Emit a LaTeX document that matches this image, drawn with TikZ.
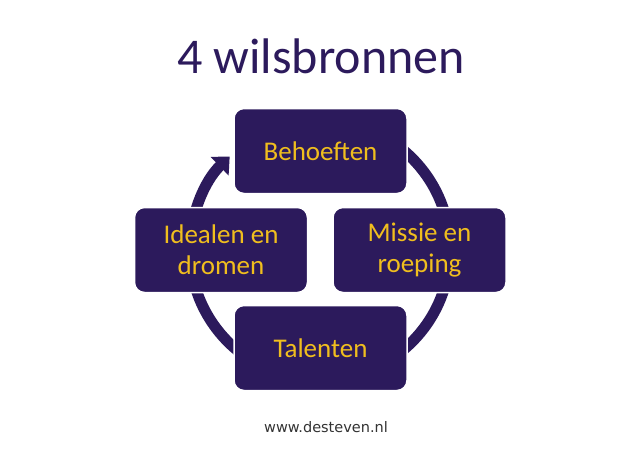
\documentclass[tikz,border=0pt]{standalone}
\usepackage{fontspec}
\setmainfont{Carlito}
\newfontfamily\footfont{DejaVu Sans}
\usetikzlibrary{arrows.meta}
\definecolor{navy}{HTML}{2C1A5C}
\definecolor{gold}{HTML}{F0BE1E}
\definecolor{footgray}{HTML}{333333}
\tikzset{
  srcbox/.style={rectangle, rounded corners=10pt, fill=navy, draw=white, line width=1.5pt,
    minimum width=173pt, minimum height=85pt, text=gold, font=\fontsize{27}{31}\selectfont,
    align=center, inner sep=2pt},
  ring/.style={draw=navy, line width=11pt, -{Triangle[width=25pt,length=14pt]}}
}
\begin{document}
\begin{tikzpicture}[x=1pt,y=1pt]
\useasboundingbox[fill=white] (0,0) rectangle (640,459);
\node[text=navy, font=\fontsize{50}{58}\selectfont] (title) at (321,403) {4 wilsbronnen};
\coordinate (c) at (320,209);
\draw[ring] (c) ++(90:130) arc[start angle=90, end angle=-226, radius=130];
\node[srcbox] (beh) at (320.5,308) {Behoeften};
\node[srcbox] (mis) at (419.5,209) {Missie en\\roeping};
\node[srcbox] (tal) at (320.5,111) {Talenten};
\node[srcbox] (ide) at (221,209) {Idealen en\\dromen};
\node[text=footgray, font=\footfont\fontsize{14.5}{17}\selectfont] (foot) at (326,32) {www.desteven.nl};
\end{tikzpicture}
\end{document}
